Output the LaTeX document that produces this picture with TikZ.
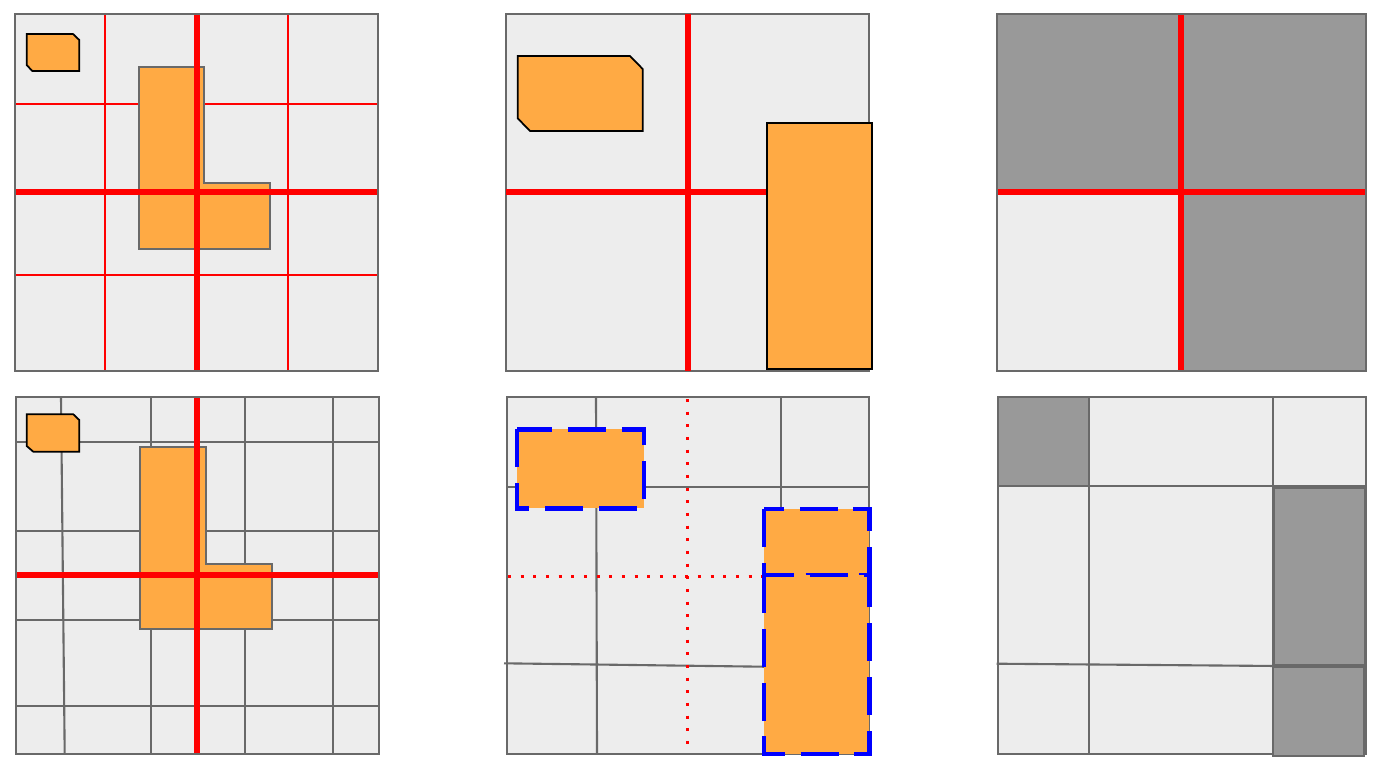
\documentclass[tikz,border=0pt]{standalone}
\definecolor{cellbg}{RGB}{237,237,237}
\definecolor{cellgray}{RGB}{153,153,153}
\definecolor{edgegray}{RGB}{105,105,105}
\definecolor{partorange}{RGB}{255,170,68}
\begin{document}
\begin{tikzpicture}[x=0.01cm,y=-0.01cm,
  cell/.style={fill=cellbg},
  darkcell/.style={fill=cellgray,draw=edgegray,line width=0.6pt},
  frame/.style={draw=edgegray,line width=0.6pt},
  gridln/.style={draw=edgegray,line width=0.6pt},
  thincut/.style={draw=red,line width=0.4pt},
  cut/.style={draw=red,line width=1.7pt},
  dotcut/.style={draw=red,line width=0.85pt,dash pattern=on 0.85pt off 2.75pt},
  part/.style={fill=partorange,draw=black,line width=0.5pt},
  lpart/.style={fill=partorange,draw=edgegray,line width=0.6pt},
  hit/.style={fill=partorange,draw=blue,line width=1.25pt,dash pattern=on 10.8pt off 4.5pt}]
\useasboundingbox (0,0) rectangle (1379,772);

% top left
\fill[cell] (15,14) rectangle (378,371);
\draw[thincut] (105,14) -- (105,371);
\draw[thincut] (288,14) -- (288,371);
\draw[thincut] (15,104) -- (378,104);
\draw[thincut] (15,275) -- (378,275);
\draw[lpart] (138.7,66.7) -- (204.3,66.7) -- (204.3,183.3) -- (270,183.3)
  -- (270,248.7) -- (138.7,248.7) -- cycle;
\draw[part] (26.7,34) -- (73,34) -- (79.3,40) -- (79.3,71) -- (32.3,71)
  -- (26.7,65) -- cycle;
\draw[cut] (196.7,14) -- (196.7,371);
\draw[cut] (15,192.3) -- (378,192.3);
\draw[frame] (15,14) rectangle (378,371);

% bottom left
\fill[cell] (16,397) rectangle (379,754);
\draw[gridln] (61,397) -- (64.7,754);
\draw[gridln] (151,397) -- (151,754);
\draw[gridln] (244.7,397) -- (244.7,754);
\draw[gridln] (332.7,397) -- (332.7,754);
\draw[gridln] (16,441.7) -- (379,441.7);
\draw[gridln] (16,530.7) -- (379,530.7);
\draw[gridln] (16,620) -- (379,620);
\draw[gridln] (16,706) -- (379,706);
\draw[lpart] (140.3,447.3) -- (205.7,447.3) -- (205.7,564) -- (271.7,564)
  -- (271.7,629.3) -- (140.3,629.3) -- cycle;
\draw[part] (26.7,414.3) -- (73.3,414.3) -- (79.3,420) -- (79.3,451.7) -- (33.3,451.7)
  -- (26.7,446) -- cycle;
\draw[cut] (197.3,397) -- (197.3,754);
\draw[cut] (16,575.3) -- (379,575.3);
\draw[frame] (16,397) rectangle (379,754);

% top middle
\fill[cell] (506,14) rectangle (869.3,370.7);
\draw[frame] (506,14) rectangle (869.3,370.7);
\draw[part] (517.7,56) -- (630,56) -- (642.7,69) -- (642.7,131) -- (530,131)
  -- (517.7,118.3) -- cycle;
\draw[cut] (687.7,14) -- (687.7,370.7);
\draw[cut] (506,192.3) -- (767,192.3);
\draw[part] (767,123) rectangle (872.3,369.3);

% bottom middle
\fill[cell] (506.7,397) rectangle (869.3,753.7);
\draw[gridln] (596,397) -- (597,753.7);
\draw[gridln] (780.7,397) -- (780.7,508);
\draw[gridln] (506.7,486.7) -- (869.3,486.7);
\draw[gridln] (504,663.3) -- (764,666.7);
\draw[dotcut] (687.7,399) -- (687.7,753.7);
\draw[dotcut] (508,576) -- (763,576);
\draw[frame] (506.7,397) rectangle (869.3,753.7);
\draw[hit] (516.7,429.3) rectangle (643.7,508.3);
\draw[hit] (764,509) rectangle (869.3,575);
\draw[hit] (764,575) rectangle (869.3,753.7);

% top right
\fill[cellgray] (997,14) rectangle (1366,370.7);
\fill[cell] (997,192.3) rectangle (1181.3,370.7);
\draw[frame] (1181.3,192.3) rectangle (1366,370.7);
\draw[cut] (1181.3,14) -- (1181.3,370.7);
\draw[cut] (997,192.3) -- (1366,192.3);
\draw[frame] (997,14) rectangle (1366,370.7);

% bottom right
\fill[cell] (998.3,397) rectangle (1366,753.7);
\draw[gridln] (1089.3,397) -- (1089.3,753.7);
\draw[gridln] (1273.3,397) -- (1273.3,753.7);
\draw[gridln] (998.3,486) -- (1366,486);
\draw[gridln] (996.7,663.7) -- (1365,666.7);
\draw[frame] (998.3,397) rectangle (1366,753.7);
\draw[darkcell] (998.3,397) rectangle (1089.3,486);
\draw[darkcell] (1274,487.7) rectangle (1365,665);
\draw[darkcell] (1272.7,667.3) rectangle (1364,755.7);
\end{tikzpicture}
\end{document}
